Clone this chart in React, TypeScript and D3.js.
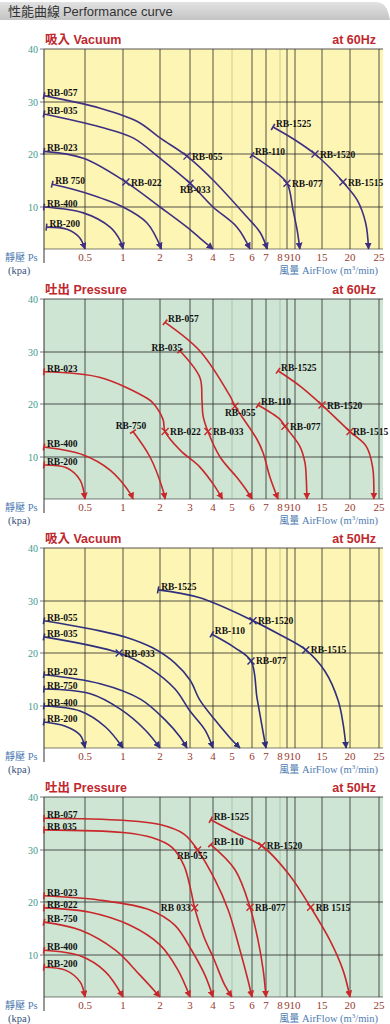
import React from 'react';
import * as d3 from 'd3';

type Tag = [number, string, string];
type Curve = { pts: [number, number][]; tags: Tag[] };

const xBreaks = [0, 0.5, 1, 2, 3, 4, 5, 6, 7, 8, 9, 10, 15, 20, 25];
const xTickValues = [0.5, 1, 2, 3, 4, 5, 6, 7, 8, 9, 10, 15, 20, 25];
const xTickLabels = ['0.5', '1', '2', '3', '4', '5', '6', '7', '8', '9', '10', '15', '20', '25'];
const yBreaks = [0, 10, 20, 30, 40];
const yTickValues = [10, 20, 30, 40];

const panelTitles = ['吸入 Vacuum', '吐出 Pressure', '吸入 Vacuum', '吐出 Pressure'];
const panelFreqs = ['at 60Hz', 'at 60Hz', 'at 50Hz', 'at 50Hz'];

const vacuum60: Curve[] = [
  { pts: [[0, 31.2], [0.7, 28.8], [1.4, 26.2], [2, 23.1], [2.9, 19.6], [4, 15.1], [5.75, 7.6], [6.57, 4], [7.1, 0]], tags: [[0, 'RB-057', 'r'], [4, 'RB-055', 'c']] },
  { pts: [[0, 27.7], [0.7, 25.2], [1.27, 23.1], [2, 19.2], [3, 14.5], [4, 10], [5.25, 5.2], [5.9, 0]], tags: [[0, 'RB-035', 'r'], [4, 'RB-033', 'b']] },
  { pts: [[0, 20.5], [0.48, 19.2], [1.08, 14.7], [2, 10], [2.9, 5.2], [3.43, 2.6], [4, 0]], tags: [[0, 'RB-023', 'r'], [2, 'RB-022', 'c']] },
  { pts: [[0.1, 14.3], [0.48, 12.8], [1, 10], [1.65, 6.2], [2.05, 0]], tags: [[0, 'RB 750', 'r']] },
  { pts: [[0, 10], [0.48, 8.6], [0.83, 5.2], [0.96, 2.1], [1, 0]], tags: [[0, 'RB-400', 'r']] },
  { pts: [[0.03, 5.2], [0.28, 4.7], [0.43, 2.8], [0.5, 0]], tags: [[0, 'RB-200', 'r']] },
  { pts: [[6, 19.8], [7.5, 17], [9, 14.5], [9.75, 9.3], [10.4, 4.5], [10.9, 0]], tags: [[0, 'RB-110', 'r'], [2, 'RB-077', 'c']] },
  { pts: [[7.5, 25.2], [10, 22.7], [13.7, 20], [16.4, 17.4], [18.75, 14.7], [21.25, 11.3], [22.7, 6.2], [23.2, 0]], tags: [[0, 'RB-1525', 'r'], [2, 'RB-1520', 'c'], [4, 'RB-1515', 'c']] },
];

const pressure60: Curve[] = [
  { pts: [[2.17, 35.6], [3.43, 30.2], [4.9, 21.5], [5.15, 19.6], [6.36, 13.3], [6.79, 10.8], [7.29, 5.1], [7.86, 0]], tags: [[0, 'RB-057', 'r'], [3, 'RB-055', 'b']] },
  { pts: [[2.67, 30.2], [3.43, 25.1], [3.52, 20.8], [3.57, 17.7], [3.78, 14.8], [4.37, 10], [5.25, 5.1], [5.75, 1.9], [6, 0]], tags: [[0, 'RB-035', 'la'], [4, 'RB-033', 'c']] },
  { pts: [[0, 26.2], [0.7, 25.1], [1.65, 21.1], [1.81, 20.2], [2.1, 17.1], [2.17, 14.8], [2.67, 11.3], [3.43, 7.6], [4.05, 3.3], [4.5, 0]], tags: [[0, 'RB-023', 'r'], [5, 'RB-022', 'c']] },
  { pts: [[1.27, 14.8], [1.73, 10], [2.1, 2.1], [2.17, 0]], tags: [[0, 'RB-750', 'a']] },
  { pts: [[0, 11.9], [0.48, 10.4], [0.83, 6.9], [1.19, 1.4], [1.27, 0]], tags: [[0, 'RB-400', 'r']] },
  { pts: [[0, 8.1], [0.28, 7.4], [0.44, 4.5], [0.5, 0]], tags: [[0, 'RB-200', 'r']] },
  { pts: [[6.43, 19.8], [8, 17.1], [8.71, 15.8], [10.9, 12], [11.85, 8.6], [12.1, 4.5], [12.2, 0]], tags: [[0, 'RB-110', 'r'], [2, 'RB-077', 'c']] },
  { pts: [[7.86, 26.4], [11, 23.4], [15, 19.8], [20, 14.8], [22.8, 12], [23.9, 7.6], [24.1, 0]], tags: [[0, 'RB-1525', 'r'], [2, 'RB-1520', 'c'], [3, 'RB-1515', 'cn']] },
];

const vacuum50: Curve[] = [
  { pts: [[1.95, 32.1], [3.43, 30.6], [6.07, 26.2], [8, 23.5], [12, 20.6], [15.5, 16.6], [17.9, 11], [18.8, 5.5], [19.3, 0]], tags: [[0, 'RB-1525', 'r'], [2, 'RB-1520', 'c'], [4, 'RB-1515', 'c']] },
  { pts: [[3.95, 23.6], [5.15, 21], [5.95, 18.5], [6.36, 11.5], [6.7, 5.5], [7, 0]], tags: [[0, 'RB-110', 'r'], [2, 'RB-077', 'c']] },
  { pts: [[0, 26.2], [0.68, 24.3], [1.1, 23], [1.8, 21], [2.5, 18.1], [3, 14.9], [3.43, 11.1], [4.1, 6.7], [4.9, 2.4], [5.4, 0]], tags: [[0, 'RB-055', 'r']] },
  { pts: [[0, 23.1], [0.95, 20], [1.73, 17.1], [2.5, 13.2], [3, 8.8], [3.65, 4.3], [4, 0]], tags: [[0, 'RB-035', 'r'], [1, 'RB-033', 'c']] },
  { pts: [[0, 15.9], [0.7, 14.2], [1.47, 11.3], [2.17, 6.7], [2.67, 2.6], [2.9, 0]], tags: [[0, 'RB-022', 'r']] },
  { pts: [[0, 13.2], [0.57, 12.3], [0.96, 9.3], [1.6, 4.3], [2, 0]], tags: [[0, 'RB-750', 'r']] },
  { pts: [[0, 10], [0.44, 8.8], [0.77, 5], [1, 0]], tags: [[0, 'RB-400', 'r']] },
  { pts: [[0, 6.2], [0.26, 5.2], [0.44, 3.1], [0.5, 0]], tags: [[0, 'RB-200', 'r']] },
];

const pressure50: Curve[] = [
  { pts: [[0, 36], [1, 35.6], [2, 34.8], [2.8, 33], [3.33, 30], [4.1, 24.3], [4.8, 18.5], [5.4, 10.9], [5.8, 4], [6, 0]], tags: [[0, 'RB-057', 'r'], [4, 'RB-055', 'bl']] },
  { pts: [[0, 33.8], [1, 33.3], [1.8, 32.3], [2.4, 30.5], [2.8, 27], [3.05, 22], [3.2, 18.9], [3.6, 13.5], [4.05, 9], [4.6, 3], [5, 0]], tags: [[0, 'RB 035', 'r'], [6, 'RB 033', 'l']] },
  { pts: [[3.9, 31], [5.15, 26.2], [5.9, 19], [6.43, 12.8], [6.8, 6.4], [7, 0]], tags: [[0, 'RB-110', 'r'], [2, 'RB-077', 'c']] },
  { pts: [[3.9, 35.7], [5.4, 32.8], [6.7, 30.8], [9.3, 25.2], [12.9, 19], [16.4, 12.8], [18.75, 6.4], [20, 0]], tags: [[0, 'RB-1525', 'r'], [2, 'RB-1520', 'c'], [4, 'RB 1515', 'c']] },
  { pts: [[0, 21.2], [0.68, 20.4], [1.73, 18.5], [2.5, 15.6], [3.07, 10.9], [3.65, 5.2], [4, 0]], tags: [[0, 'RB-023', 'r']] },
  { pts: [[0, 18.9], [0.55, 18.1], [1.19, 15.6], [2, 11.9], [2.6, 6.4], [3, 0]], tags: [[0, 'RB-022', 'r']] },
  { pts: [[0, 16.2], [0.44, 14.7], [0.9, 10.9], [1.46, 5.2], [2, 0]], tags: [[0, 'RB-750', 'r']] },
  { pts: [[0, 10.9], [0.44, 9.8], [0.77, 6], [1, 0]], tags: [[0, 'RB-400', 'r']] },
  { pts: [[0, 7.1], [0.26, 6.4], [0.44, 3.6], [0.5, 0]], tags: [[0, 'RB-200', 'r']] },
];

// layout
const LEFT = 44;
const RIGHT = 383;
const X_OFFSETS = [0, 41, 79, 116, 146, 169, 188, 208, 222, 236, 243, 251, 278, 306, 335];
const Y_OFFSETS = [200, 158, 105, 53, 0];
const PANEL_TOPS = [49, 299, 548, 797];

const SERIF = '"Liberation Serif", "DejaVu Serif", serif';
const SANS = '"Liberation Sans", Arial, "Noto Sans CJK TC", sans-serif';
const CJK = '"Noto Sans CJK TC", "Noto Sans CJK SC", sans-serif';

const labelOffset: Record<string, { dx: number; dy: number; anchor: string }> = {
  r: { dx: 3, dy: 0, anchor: 'start' },
  c: { dx: 5, dy: 3.5, anchor: 'start' },
  cn: { dx: 3, dy: 3.5, anchor: 'start' },
  b: { dx: -10, dy: 10, anchor: 'start' },
  la: { dx: 2, dy: 0, anchor: 'end' },
  a: { dx: -2, dy: -3, anchor: 'middle' },
  l: { dx: -4, dy: 3.5, anchor: 'end' },
  bl: { dx: 10, dy: 9, anchor: 'end' },
};

function Panel({ idx, curves, bg, color }: { idx: number; curves: Curve[]; bg: string; color: string }) {
  const top = PANEL_TOPS[idx];
  const bottom = top + Y_OFFSETS[0];
  const x = d3.scaleLinear().domain(xBreaks).range(X_OFFSETS.map((o) => LEFT + o));
  const y = d3.scaleLinear().domain(yBreaks).range(Y_OFFSETS.map((o) => top + o));
  const line = d3
    .line<[number, number]>()
    .x((d) => x(d[0]))
    .y((d) => y(d[1]))
    .curve(d3.curveCatmullRom.alpha(0.5));
  const markerId = `arrow${idx}`;
  const gridDark = '#2a2a2a';
  const gridLight = idx % 2 === 0 ? '#c9c08a' : '#9fbea8';

  return (
    <g>
      <defs>
        <marker id={markerId} viewBox="0 0 10 10" refX="9" refY="5" markerWidth="7" markerHeight="7" markerUnits="userSpaceOnUse" orient="auto">
          <path d="M0,0 L10,5 L0,10 z" fill={color} />
        </marker>
      </defs>
      <text x={45} y={top - 5} fontFamily={SANS} fontWeight="bold" fontSize={12.5} fill="#c0282e">
        {panelTitles[idx]}
      </text>
      <text x={376} y={top - 5} textAnchor="end" fontFamily={SANS} fontWeight="bold" fontSize={12.5} fill="#c0282e">
        {panelFreqs[idx]}
      </text>
      <rect x={LEFT} y={top} width={RIGHT - LEFT} height={bottom - top} fill={bg} />
      {xTickValues.map((v) => (
        <line key={'v' + v} x1={x(v)} x2={x(v)} y1={top} y2={bottom} stroke={v === 5 || v === 8 ? gridLight : gridDark} strokeWidth={0.8} />
      ))}
      {yTickValues.map((v) => (
        <line key={'h' + v} x1={LEFT} x2={RIGHT} y1={y(v)} y2={y(v)} stroke={gridDark} strokeWidth={0.8} />
      ))}
      <line x1={LEFT} x2={RIGHT} y1={bottom} y2={bottom} stroke={gridDark} strokeWidth={0.6} />
      <line x1={LEFT} x2={LEFT} y1={top} y2={bottom + 14} stroke="#333" strokeWidth={1} />
      {yTickValues.map((v) => (
        <g key={'yt' + v}>
          <line x1={LEFT - 4} x2={LEFT} y1={y(v)} y2={y(v)} stroke="#555" strokeWidth={0.8} />
          <text x={38} y={y(v) + 3.5} textAnchor="end" fontFamily={SERIF} fontSize={10} fill="#3d9a8c">
            {v}
          </text>
        </g>
      ))}
      {xTickValues.map((v, i) => (
        <text key={'xt' + v} x={x(v)} y={bottom + 12} textAnchor="middle" fontFamily={SERIF} fontSize={11} fill="#9a3a2c">
          {xTickLabels[i]}
        </text>
      ))}
      <text x={5} y={bottom + 12} fontFamily={SERIF} fontSize={10.5} fill="#4d7bb0">
        <tspan fontFamily={CJK} fontSize={10}>靜壓</tspan> Ps
      </text>
      <text x={8} y={bottom + 25} fontFamily={SERIF} fontSize={10.5} fill="#35507a">
        (kpa)
      </text>
      <text x={378} y={bottom + 25} textAnchor="end" fontFamily={SERIF} fontSize={10.5} fill="#4d7bb0">
        <tspan fontFamily={CJK} fontSize={10}>風量</tspan> AirFlow (m<tspan fontSize={7} dy={-4}>3</tspan>
        <tspan dy={4}>/min)</tspan>
      </text>
      {curves.map((c, ci) => {
        const p0 = [x(c.pts[0][0]), y(c.pts[0][1])];
        const p1 = [x(c.pts[1][0]), y(c.pts[1][1])];
        const dxv = p1[0] - p0[0];
        const dyv = p1[1] - p0[1];
        const len = Math.hypot(dxv, dyv) || 1;
        const nx = (-dyv / len) * 3.5;
        const ny = (dxv / len) * 3.5;
        return (
          <g key={'c' + ci}>
            <path d={line(c.pts) || ''} fill="none" stroke={color} strokeWidth={1.6} markerEnd={`url(#${markerId})`} />
            <line x1={p0[0] - nx} y1={p0[1] - ny} x2={p0[0] + nx} y2={p0[1] + ny} stroke={color} strokeWidth={1.6} />
            {c.tags.map((t, ti) => {
              const px = x(c.pts[t[0]][0]);
              const py = y(c.pts[t[0]][1]);
              const off = labelOffset[t[2]];
              return (
                <g key={'t' + ti}>
                  {t[0] > 0 && (
                    <g stroke={color} strokeWidth={1.4}>
                      <line x1={px - 3.5} y1={py - 3.5} x2={px + 3.5} y2={py + 3.5} />
                      <line x1={px - 3.5} y1={py + 3.5} x2={px + 3.5} y2={py - 3.5} />
                    </g>
                  )}
                  <text x={px + off.dx} y={py + off.dy} textAnchor={off.anchor} fontFamily={SERIF} fontWeight="bold" fontSize={9.5} fill="#111">
                    {t[1]}
                  </text>
                </g>
              );
            })}
          </g>
        );
      })}
    </g>
  );
}

export default function App() {
  const panels = [
    { curves: vacuum60, bg: '#fdf5b4', color: '#3f2f82' },
    { curves: pressure60, bg: '#cde5d2', color: '#c8282b' },
    { curves: vacuum50, bg: '#fdf5b4', color: '#2f2f7e' },
    { curves: pressure50, bg: '#cde5d2', color: '#c8282b' },
  ];
  return (
    <svg width={390} height={1024} style={{ position: 'absolute', left: 0, top: 0, background: '#fff' }}>
      <defs>
        <linearGradient id="hdr" x1="0" y1="0" x2="0" y2="1">
          <stop offset="0" stopColor="#e2e2e2" />
          <stop offset="1" stopColor="#c4c4c4" />
        </linearGradient>
      </defs>
      <path d="M0,2 H376 Q385,2 388,12 L390,20 H0 Z" fill="url(#hdr)" />
      <text x={8} y={16} fontFamily={CJK} fontSize={13} fill="#333">
        性能曲線 <tspan fontFamily={SANS}>Performance curve</tspan>
      </text>
      {panels.map((p, i) => (
        <Panel key={i} idx={i} curves={p.curves} bg={p.bg} color={p.color} />
      ))}
    </svg>
  );
}
